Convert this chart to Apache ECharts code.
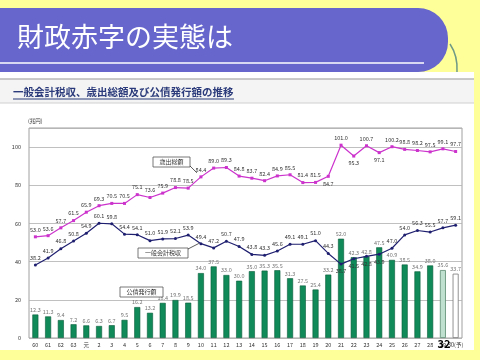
<!DOCTYPE html>
<html><head><meta charset="utf-8">
<script src="https://cdn.jsdelivr.net/npm/echarts@6/dist/echarts.min.js"></script>
<style>html,body{margin:0;padding:0;background:#ffff99;}#c{width:480px;height:360px;}</style>
</head><body><div id="c"></div>
<script>
var categories = ['60','61','62','63','元','2','3','4','5','6','7','8','9','10','11','12','13','14','15','16','17','18','19','20','21','22','23','24','25','26','27','28','29','30(予)'];
var expenditure = [53.0,53.6,57.7,61.5,65.9,69.3,70.5,70.5,75.1,73.6,75.9,78.8,78.5,84.4,89.0,89.3,84.8,83.7,82.4,84.9,85.5,81.4,81.5,84.7,101.0,95.3,100.7,97.1,100.2,98.8,98.2,97.5,99.1,97.7];
var taxRevenue = [38.2,41.9,46.8,50.8,54.9,60.1,59.8,54.4,54.1,51.0,51.9,52.1,53.9,49.4,47.2,50.7,47.9,43.8,43.3,45.6,49.1,49.1,51.0,44.3,38.7,41.5,42.8,43.9,47.0,54.0,56.3,55.5,57.7,59.1];
var bonds = [12.3,11.3,9.4,7.2,6.6,6.3,6.7,9.5,16.2,13.2,18.4,19.9,18.5,34.0,37.5,33.0,30.0,35.0,35.3,35.5,31.3,27.5,25.4,33.2,52.0,42.3,42.8,47.5,40.9,38.5,34.9,38.0,35.6,33.7];
var yTicks = [0,20,40,60,80,100];
var expBelow = ['20','22','24'];
var taxBelow = ['21','22','23','24'];

var FONT = '"Noto Sans CJK JP", "Noto Sans", sans-serif';
var chart = echarts.init(document.getElementById('c'), null, {renderer:'canvas'});

var barData = bonds.map(function(v,i){
  var it = {value:v};
  if (categories[i]==='29') it.itemStyle = {color:'#bfe0cf', borderColor:'#5a8a70', borderWidth:0.8};
  if (categories[i]==='30(予)') it.itemStyle = {color:'#ffffff', borderColor:'#777', borderWidth:0.8};
  return it;
});
var expData = expenditure.map(function(v,i){
  var it = {value:v};
  if (expBelow.indexOf(categories[i])>=0) it.label = {position:'bottom'};
  return it;
});
var taxData = taxRevenue.map(function(v,i){
  var it = {value:v};
  if (taxBelow.indexOf(categories[i])>=0) it.label = {position:'bottom'};
  return it;
});

var lbl = {show:true, position:'top', fontSize:5.5, color:'#333', fontFamily:FONT, distance:3, formatter:function(p){return p.value.toFixed(1);}};

chart.setOption({
  animation:false,
  textStyle:{fontFamily:FONT},
  grid:{left:29, right:18, top:128, bottom:22, show:true, borderColor:'#a0a0a0', borderWidth:1, backgroundColor:'#fff'},
  xAxis:{type:'category', data:categories,
    axisLine:{show:false}, axisTick:{show:false},
    axisLabel:{fontSize:5.5, color:'#333', margin:4, interval:0, fontFamily:FONT}},
  yAxis:{type:'value', min:0, max:110, interval:20,
    axisLine:{show:false}, axisTick:{show:false},
    splitLine:{lineStyle:{color:'#b0b0b0', width:0.8}},
    axisLabel:{fontSize:5.5, color:'#333', margin:8, fontFamily:FONT,
      formatter:function(v){return yTicks.indexOf(v)>=0 ? String(v) : '';}}},
  series:[
    {type:'bar', name:'公債発行額', data:barData, barWidth:6,
      itemStyle:{color:'#0f8a58', borderColor:'#0a5c3a', borderWidth:0.6},
      label:Object.assign({}, lbl, {color:'#777', distance:2}), z:1},
    {type:'line', name:'歳出総額', data:expData, symbol:'rect', symbolSize:3,
      lineStyle:{color:'#cc33cc', width:1.2}, itemStyle:{color:'#cc33cc'},
      label:lbl, z:3},
    {type:'line', name:'一般会計税収', data:taxData, symbol:'circle', symbolSize:3,
      lineStyle:{color:'#1f1f70', width:1.2}, itemStyle:{color:'#1f1f70'},
      label:lbl, z:4}
  ]
});

var p10 = chart.convertToPixel({seriesIndex:1}, [13, expenditure[13]]);
var p9t = chart.convertToPixel({seriesIndex:2}, [12.5, (taxRevenue[12]+taxRevenue[13])/2]);

chart.setOption({graphic:[
  {type:'rect', shape:{x:0, y:72, width:474, height:278}, style:{fill:'#fff'}, z:-20, silent:true},
  {type:'rect', shape:{x:-20, y:8, width:468, height:64, r:[0,30,30,0]}, style:{fill:'#6666cc'}, z:-10},
  {type:'line', shape:{x1:0, y1:63, x2:424, y2:63}, style:{stroke:'#fff', lineWidth:1.5}, z:-9},
  {type:'text', x:17, y:37, style:{text:'財政赤字の実態は', fill:'#fff', fontSize:27, fontFamily:FONT, verticalAlign:'middle'}, z:-8},
  {type:'bezierCurve', shape:{x1:450, y1:44, x2:457, y2:72, cpx1:458, cpy1:56}, style:{stroke:'#6f9a86', lineWidth:1.5, fill:null}, z:-9},
  {type:'rect', shape:{x:0, y:79, width:474, height:24}, style:{fill:'#f4f4f4'}, z:-19},
  {type:'line', shape:{x1:0, y1:79, x2:474, y2:79}, style:{stroke:'#b8b8b8', lineWidth:1.5}, z:-18},
  {type:'line', shape:{x1:0, y1:103, x2:474, y2:103}, style:{stroke:'#d0d0d0', lineWidth:1}, z:-18},
  {type:'text', x:13, y:92, style:{text:'一般会計税収、歳出総額及び公債発行額の推移', fill:'#2a3a7a', fontSize:10.5, fontWeight:'bold', fontFamily:FONT, verticalAlign:'middle'}, z:-17},
  {type:'line', shape:{x1:13, y1:99, x2:234, y2:99}, style:{stroke:'#2a3a7a', lineWidth:1}, z:-17},
  {type:'text', x:28, y:121, style:{text:'(兆円)', fill:'#333', fontSize:5.5, fontFamily:FONT, verticalAlign:'middle'}},
  {type:'rect', shape:{x:153, y:157, width:37, height:10}, style:{fill:'#fff', stroke:'#555', lineWidth:0.8}, z:10},
  {type:'text', x:171.5, y:162, style:{text:'歳出総額', fill:'#333', fontSize:6, fontFamily:FONT, align:'center', verticalAlign:'middle'}, z:11},
  {type:'line', shape:{x1:190, y1:166, x2:p10[0]-4, y2:p10[1]-4}, style:{stroke:'#333', lineWidth:0.8}, z:10},
  {type:'rect', shape:{x:138, y:248, width:50, height:10}, style:{fill:'#fff', stroke:'#555', lineWidth:0.8}, z:10},
  {type:'text', x:163, y:253, style:{text:'一般会計税収', fill:'#333', fontSize:6, fontFamily:FONT, align:'center', verticalAlign:'middle'}, z:11},
  {type:'line', shape:{x1:188, y1:249, x2:p9t[0]-2, y2:p9t[1]+4}, style:{stroke:'#333', lineWidth:0.8}, z:10},
  {type:'rect', shape:{x:120, y:287, width:43, height:10}, style:{fill:'#fff', stroke:'#555', lineWidth:0.8}, z:10},
  {type:'text', x:141.5, y:292, style:{text:'公債発行額', fill:'#333', fontSize:6, fontFamily:FONT, align:'center', verticalAlign:'middle'}, z:11},
  {type:'text', x:444, y:344, style:{text:'32', fill:'#000', fontSize:11, fontWeight:'bold', fontFamily:FONT, align:'center', verticalAlign:'middle'}, z:12}
]});
</script></body></html>
